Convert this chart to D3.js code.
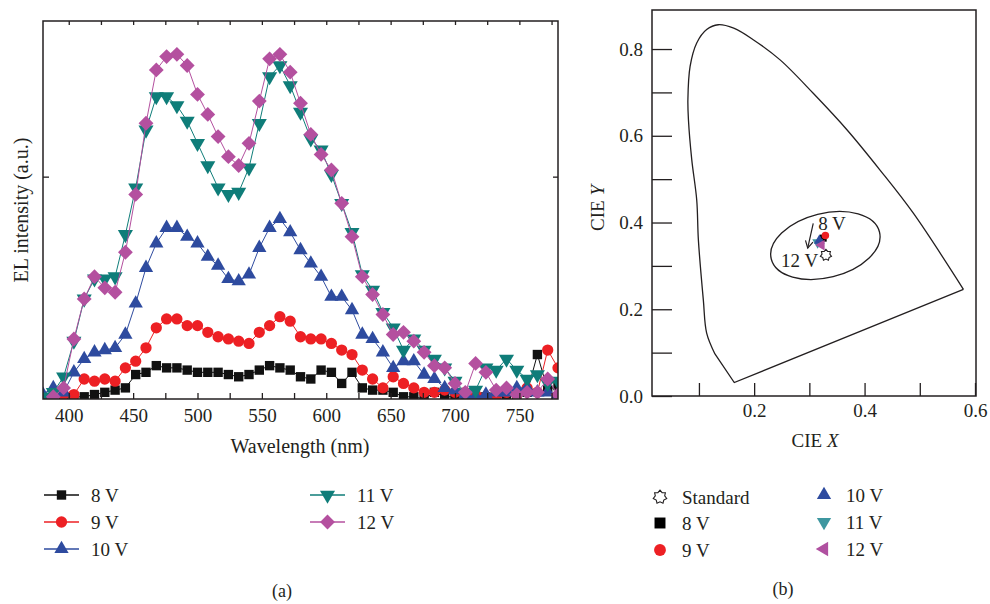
<!doctype html>
<html>
<head>
<meta charset="utf-8">
<script src="https://d3js.org/d3.v7.min.js"></script>
<style>
  body { margin: 0; background: #fff; }
  svg text { font-family: "Liberation Serif", "DejaVu Serif", serif; fill: #231f20; }
</style>
</head>
<body>
<svg width="990" height="604" id="chart"></svg>
<script>
// ---------- (a) EL spectra ----------
const wavelength = [380,388,396,404,412,420,428,436,444,452,460,468,476,484,492,500,508,516,524,532,540,548,556,564,572,580,588,596,604,612,620,628,636,644,652,660,668,676,684,692,700,708,716,724,732,740,748,756,764,772,780];
const el8V  = [null,null,0.00,0.01,0.01,0.02,0.03,0.04,0.05,0.11,0.12,0.15,0.14,0.14,0.13,0.12,0.12,0.12,0.11,0.10,0.11,0.13,0.15,0.14,0.13,0.10,0.09,0.13,0.12,0.07,0.12,0.05,0.04,0.04,0.03,0.01,0.01,0.00,0.03,0.01,0.01,0.00,0.01,0.01,0.01,0.01,0.02,0.03,0.20,0.04,0.06];
const el9V  = [null,null,0.02,0.02,0.09,0.08,0.09,0.08,0.14,0.17,0.23,0.32,0.36,0.36,0.33,0.33,0.30,0.28,0.27,0.26,0.25,0.30,0.33,0.37,0.35,0.28,0.27,0.27,0.25,0.22,0.20,0.13,0.09,0.05,0.10,0.07,0.05,0.03,0.03,0.04,0.03,0.03,0.02,0.01,0.01,0.03,0.02,0.05,0.03,0.22,0.14];
const el10V = [0.02,0.05,0.03,0.12,0.18,0.21,0.22,0.23,0.29,0.43,0.59,0.70,0.77,0.77,0.73,0.70,0.64,0.60,0.54,0.53,0.56,0.68,0.77,0.81,0.75,0.67,0.61,0.55,0.46,0.46,0.40,0.29,0.27,0.21,0.14,0.17,0.17,0.11,0.09,0.05,0.04,0.02,0.01,0.02,0.03,0.03,0.05,0.05,0.03,0.03,0.02];
const el11V = [0.01,0.03,0.10,0.26,0.45,0.54,0.54,0.55,0.74,0.95,1.21,1.36,1.36,1.32,1.25,1.15,1.05,0.95,0.92,0.93,1.04,1.24,1.45,1.50,1.41,1.29,1.17,1.12,1.01,0.88,0.75,0.56,0.49,0.39,0.32,0.22,0.27,0.22,0.18,0.14,0.08,0.03,0.04,0.14,0.13,0.18,0.13,0.09,0.11,0.07,0.08];
const el12V = [null,0.01,0.05,0.27,0.45,0.55,0.50,0.48,0.66,0.92,1.24,1.48,1.54,1.55,1.50,1.37,1.28,1.18,1.09,1.05,1.15,1.34,1.53,1.55,1.47,1.33,1.19,1.10,1.03,0.88,0.73,0.55,0.47,0.38,0.29,0.30,0.26,0.21,0.15,0.14,0.07,0.03,0.16,0.12,0.04,0.05,0.02,0.03,0.03,0.09,0.02];
const wlTicks = [400,425,450,475,500,525,550,575,600,625,650,675,700,725,750,775];
const wlLabels = [400,450,500,550,600,650,700,750];

// ---------- (b) CIE diagram ----------
const locusX = [0.129,0.114,0.108,0.099,0.096,0.087,0.081,0.080,0.084,0.096,0.114,0.135,0.163,0.199,0.247,0.307,0.368,0.428,0.488,0.579];
const locusY = [0.097,0.145,0.221,0.360,0.452,0.545,0.637,0.683,0.760,0.814,0.845,0.856,0.848,0.821,0.775,0.698,0.614,0.521,0.422,0.246];
const purpleX = [0.579,0.164,0.129];
const purpleY = [0.246,0.031,0.097];
const ellipseCenter = [0.329,0.347];
const ellipseRadii = [0.101,0.074];
const standardXY = [0.330,0.325];
const cieLabels = ["8 V","9 V","10 V","11 V","12 V"];
const cieX = [0.325,0.329,0.318,0.315,0.322];
const cieY = [0.364,0.370,0.358,0.354,0.348];
const cieOrder = ["8 V","11 V","10 V","9 V","12 V"];
const arrowFrom = [0.307,0.398];
const arrowTo = [0.297,0.341];
const cieXTicks = [0.1,0.2,0.3,0.4,0.5,0.6];
const cieYTicks = [0,0.1,0.2,0.3,0.4,0.5,0.6,0.7,0.8];

const svg = d3.select("#chart");
const ink = "#231f20";

// series styles
const styles = {
  "8 V":  {color: "#111111", type: d3.symbolSquare,   rot: 0,   size: 88},
  "9 V":  {color: "#ed2024", type: d3.symbolCircle,   rot: 0,   size: 100},
  "10 V": {color: "#2e4b9f", type: d3.symbolTriangle, rot: 0,   size: 88},
  "11 V": {color: "#0f7d79", type: d3.symbolTriangle, rot: 180, size: 98},
  "12 V": {color: "#b4509f", type: d3.symbolSquare,   rot: 45,  size: 110}
};
const series = [
  {name: "8 V", v: el8V}, {name: "9 V", v: el9V}, {name: "10 V", v: el10V},
  {name: "11 V", v: el11V}, {name: "12 V", v: el12V}
];

// ===== panel (a) =====
const xA = d3.scaleLinear().domain([380, 780]).range([43, 558]);
const yA = d3.scaleLinear().domain([0, 1.7]).range([399, 21]);

svg.append("clipPath").attr("id", "clipA")
  .append("rect").attr("x", 43).attr("y", 21).attr("width", 515).attr("height", 378);

const plotA = svg.append("g").attr("clip-path", "url(#clipA)");
const line = d3.line().defined(d => d[1] != null).x(d => xA(d[0])).y(d => yA(d[1]));

series.forEach(s => {
  const st = styles[s.name];
  const pts = wavelength.map((w, i) => [w, s.v[i]]);
  plotA.append("path").datum(pts)
    .attr("d", line).attr("fill", "none")
    .attr("stroke", st.color).attr("stroke-width", 1);
  plotA.append("g").selectAll("path")
    .data(pts.filter(d => d[1] != null))
    .enter().append("path")
    .attr("d", d3.symbol().type(st.type).size(st.size))
    .attr("transform", d => "translate(" + xA(d[0]) + "," + yA(d[1]) + ") rotate(" + st.rot + ")")
    .attr("fill", st.color);
});

function styleAxis(g) {
  g.select(".domain").remove();
  g.selectAll("line").attr("stroke", ink).attr("stroke-width", 1.3);
  g.selectAll("text").style("font-size", "19px").attr("fill", ink);
  g.attr("font-family", null).attr("font-size", null);
}

svg.append("g").attr("transform", "translate(0,399)")
  .call(d3.axisBottom(xA).tickValues(wlTicks).tickSizeInner(-6).tickSizeOuter(0).tickPadding(10)
    .tickFormat(d => wlLabels.includes(d) ? d : ""))
  .call(styleAxis);
svg.append("g").attr("transform", "translate(0,21)")
  .call(d3.axisTop(xA).tickValues(wlTicks).tickSizeInner(-4).tickSizeOuter(0).tickFormat(""))
  .call(styleAxis);
svg.append("g").attr("transform", "translate(43,0)")
  .call(d3.axisLeft(yA).tickValues([1]).tickSizeInner(-6).tickSizeOuter(0).tickFormat(""))
  .call(styleAxis);
svg.append("g").attr("transform", "translate(558,0)")
  .call(d3.axisRight(yA).tickValues([1]).tickSizeInner(-5).tickSizeOuter(0).tickFormat(""))
  .call(styleAxis);

svg.append("rect").attr("x", 43).attr("y", 21).attr("width", 515).attr("height", 378)
  .attr("fill", "none").attr("stroke", ink).attr("stroke-width", 1.5);

svg.append("text").attr("x", 300).attr("y", 453).attr("text-anchor", "middle")
  .style("font-size", "20px").text("Wavelength (nm)");
svg.append("text").attr("transform", "translate(28,210) rotate(-90)").attr("text-anchor", "middle")
  .style("font-size", "20px").text("EL intensity (a.u.)");

// legend (a)
const legA = [
  {name: "8 V", x: 44, y: 495}, {name: "9 V", x: 44, y: 522}, {name: "10 V", x: 44, y: 549},
  {name: "11 V", x: 310, y: 495}, {name: "12 V", x: 310, y: 522}
];
legA.forEach(d => {
  const st = styles[d.name];
  svg.append("line").attr("x1", d.x).attr("x2", d.x + 35).attr("y1", d.y).attr("y2", d.y)
    .attr("stroke", st.color).attr("stroke-width", 1.5);
  svg.append("path").attr("d", d3.symbol().type(st.type).size(st.size))
    .attr("transform", "translate(" + (d.x + 17.5) + "," + d.y + ") rotate(" + st.rot + ")")
    .attr("fill", st.color);
  svg.append("text").attr("x", d.x + 47).attr("y", d.y + 6.7).style("font-size", "19px").text(d.name);
});
svg.append("text").attr("x", 282).attr("y", 597).attr("text-anchor", "middle")
  .style("font-size", "18px").text("(a)");

// ===== panel (b) =====
const xB = d3.scaleLinear().domain([0.015, 0.6]).range([652, 975]);
const yB = d3.scaleLinear().domain([0, 0.89]).range([396, 10]);

svg.append("g").attr("transform", "translate(0,396)")
  .call(d3.axisBottom(xB).tickValues(cieXTicks).tickSizeInner(-13).tickSizeOuter(0).tickPadding(8)
    .tickFormat(d => (Math.round(d * 10) % 2 === 0) ? d3.format(".1f")(d) : ""))
  .call(styleAxis);
svg.append("g").attr("transform", "translate(652,0)")
  .call(d3.axisLeft(yB).tickValues(cieYTicks).tickSizeInner(-20).tickSizeOuter(0).tickPadding(9)
    .tickFormat(d => (Math.round(d * 10) % 2 === 0) ? d3.format(".1f")(d) : ""))
  .call(styleAxis);

svg.append("rect").attr("x", 652).attr("y", 10).attr("width", 324).attr("height", 386)
  .attr("fill", "none").attr("stroke", ink).attr("stroke-width", 1.5);

const locus = locusX.map((x, i) => [x, locusY[i]]);
svg.append("path").datum(locus)
  .attr("d", d3.line().x(d => xB(d[0])).y(d => yB(d[1])).curve(d3.curveCatmullRom.alpha(0.5)))
  .attr("fill", "none").attr("stroke", ink).attr("stroke-width", 1.3);
svg.append("path").datum(purpleX.map((x, i) => [x, purpleY[i]]))
  .attr("d", d3.line().x(d => xB(d[0])).y(d => yB(d[1])))
  .attr("fill", "none").attr("stroke", ink).attr("stroke-width", 1.3);

// ellipse around the colour points
const ecx = xB(ellipseCenter[0]), ecy = yB(ellipseCenter[1]);
svg.append("ellipse")
  .attr("cx", ecx).attr("cy", ecy)
  .attr("rx", xB(ellipseCenter[0] + ellipseRadii[0]) - ecx)
  .attr("ry", ecy - yB(ellipseCenter[1] + ellipseRadii[1]))
  .attr("transform", "rotate(-14," + ecx + "," + ecy + ")")
  .attr("fill", "none").attr("stroke", ink).attr("stroke-width", 1.3);

// custom outlined star for the standard white point
const gear = {
  draw(ctx, size) {
    const r = Math.sqrt(size) / 2, n = 7;
    for (let k = 0; k < 2 * n; k++) {
      const a = Math.PI * k / n - Math.PI / 2;
      const rr = k % 2 === 0 ? r : r * 0.7;
      if (k === 0) ctx.moveTo(rr * Math.cos(a), rr * Math.sin(a));
      else ctx.lineTo(rr * Math.cos(a), rr * Math.sin(a));
    }
    ctx.closePath();
  }
};

const cieStyles = {
  "8 V":  {color: "#000000", type: d3.symbolSquare,   rot: 0},
  "9 V":  {color: "#ed2024", type: d3.symbolCircle,   rot: 0},
  "10 V": {color: "#2e4b9f", type: d3.symbolTriangle, rot: 0},
  "11 V": {color: "#3e97a0", type: d3.symbolTriangle, rot: 180},
  "12 V": {color: "#b050a0", type: d3.symbolTriangle, rot: -90}
};

svg.append("path").attr("d", d3.symbol().type(gear).size(130))
  .attr("transform", "translate(" + xB(standardXY[0]) + "," + yB(standardXY[1]) + ")")
  .attr("fill", "#fff").attr("stroke", ink).attr("stroke-width", 1.1);

cieOrder.forEach(name => {
  const i = cieLabels.indexOf(name);
  const st = cieStyles[name];
  svg.append("path").attr("d", d3.symbol().type(st.type).size(name === "9 V" ? 44 : 50))
    .attr("transform", "translate(" + xB(cieX[i]) + "," + yB(cieY[i]) + ") rotate(" + st.rot + ")")
    .attr("fill", st.color);
});

// arrow from 8 V to 12 V
const ax1 = xB(arrowFrom[0]), ay1 = yB(arrowFrom[1]), ax2 = xB(arrowTo[0]), ay2 = yB(arrowTo[1]);
const ang = Math.atan2(ay2 - ay1, ax2 - ax1);
svg.append("line").attr("x1", ax1).attr("y1", ay1).attr("x2", ax2).attr("y2", ay2)
  .attr("stroke", ink).attr("stroke-width", 1.2);
svg.append("path")
  .attr("d", "M" + (ax2 - 8 * Math.cos(ang - 0.5)) + "," + (ay2 - 8 * Math.sin(ang - 0.5)) +
             "L" + ax2 + "," + ay2 +
             "L" + (ax2 - 8 * Math.cos(ang + 0.5)) + "," + (ay2 - 8 * Math.sin(ang + 0.5)))
  .attr("fill", "none").attr("stroke", ink).attr("stroke-width", 1.2);
svg.append("text").attr("x", xB(0.316)).attr("y", yB(0.383)).style("font-size", "19px").text("8 V");
svg.append("text").attr("x", xB(0.316)).attr("y", yB(0.298)).attr("text-anchor", "end")
  .style("font-size", "19px").text("12 V");

// axis titles (b)
const tX = svg.append("text").attr("x", 815).attr("y", 447).attr("text-anchor", "middle").style("font-size", "19px");
tX.append("tspan").text("CIE ");
tX.append("tspan").style("font-style", "italic").text("X");
const tY = svg.append("text").attr("transform", "translate(604,208) rotate(-90)").attr("text-anchor", "middle").style("font-size", "19px");
tY.append("tspan").text("CIE ");
tY.append("tspan").style("font-style", "italic").text("Y");

// legend (b)
const legB = [
  {name: "Standard", x: 660, y: 497}, {name: "8 V", x: 660, y: 523}, {name: "9 V", x: 660, y: 550},
  {name: "10 V", x: 824, y: 495}, {name: "11 V", x: 824, y: 522}, {name: "12 V", x: 824, y: 549}
];
legB.forEach(d => {
  if (d.name === "Standard") {
    svg.append("path").attr("d", d3.symbol().type(gear).size(190))
      .attr("transform", "translate(" + d.x + "," + d.y + ")")
      .attr("fill", "#fff").attr("stroke", ink).attr("stroke-width", 1.1);
  } else {
    const st = cieStyles[d.name];
    const sz = st.type === d3.symbolTriangle ? 88 : (st.type === d3.symbolCircle ? 110 : 120);
    svg.append("path").attr("d", d3.symbol().type(st.type).size(sz))
      .attr("transform", "translate(" + d.x + "," + d.y + ") rotate(" + st.rot + ")")
      .attr("fill", st.color);
  }
  svg.append("text").attr("x", d.x + 22).attr("y", d.y + 6.7).style("font-size", "19px").text(d.name);
});
svg.append("text").attr("x", 783).attr("y", 595).attr("text-anchor", "middle")
  .style("font-size", "18px").text("(b)");
</script>
</body>
</html>
